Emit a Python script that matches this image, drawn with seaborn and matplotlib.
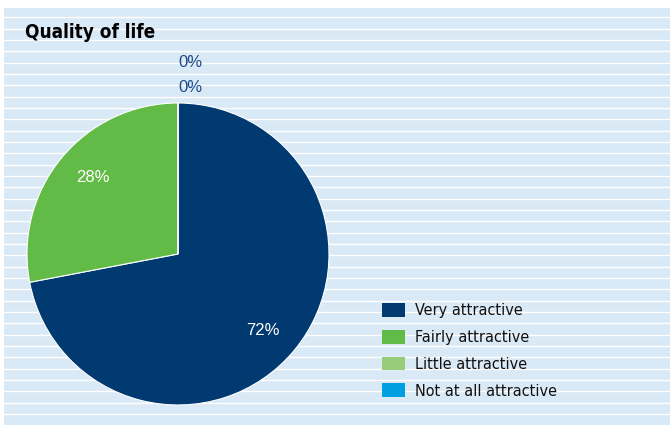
import matplotlib
matplotlib.use("Agg")
import matplotlib.pyplot as plt
import seaborn as sns
import numpy as np
from matplotlib.patches import Rectangle
from matplotlib.lines import Line2D
from matplotlib import font_manager as fm

# Survey answers: how attractive is the quality of life
categories = ["Very attractive", "Fairly attractive", "Little attractive", "Not at all attractive"]
shares = [72, 28, 0, 0]
colors = ["#003A70", "#62BB46", "#97CD79", "#009FDF"]
title = "Quality of life"

sns.set_theme(style="white")
plt.rcParams["font.family"] = ["Liberation Sans", "DejaVu Sans"]

# a condensed face for the title and legend, if one is available
cond = fm.FontProperties(family="DejaVu Sans", stretch="condensed", size=11.6)
cond_bold = fm.FontProperties(family="DejaVu Sans", stretch="condensed",
                              weight="bold", size=13.6)

W, H = 670, 425
fig = plt.figure(figsize=(W / 100, H / 100), dpi=100)
fig.patch.set_facecolor("white")

# striped light-blue panel behind everything
px, py = 4, 8
fig.patches.append(Rectangle((px / W, 0), (W - px) / W, (H - py) / H,
                             transform=fig.transFigure, facecolor="#D9E9F5",
                             edgecolor="none", zorder=-10))
y = 17.2
while y < H:
    fig.lines.append(Line2D([px / W, 1], [1 - y / H, 1 - y / H],
                            transform=fig.transFigure, color="white",
                            lw=1.0, zorder=-9))
    y += 11.34

# pie axes: centre (178, 254) px, radius 151 px
cx, cy, r = 178, 254, 151
ax = fig.add_axes([(cx - r) / W, (H - cy - r) / H, 2 * r / W, 2 * r / H])

wedges, _ = ax.pie(shares, colors=colors, startangle=90, counterclock=False,
                   radius=1, wedgeprops=dict(edgecolor="white", linewidth=0.8))
ax.set_xlim(-1, 1)
ax.set_ylim(-1, 1)
ax.set_aspect("equal")
ax.axis("off")
ax.patch.set_alpha(0)

zero_offsets = [1.265, 1.10]
zi = 0
for w, v in zip(wedges, shares):
    if v > 0:
        ang = np.deg2rad((w.theta1 + w.theta2) / 2 - 2.5)
        ax.text(0.76 * np.cos(ang), 0.76 * np.sin(ang), f"{v}%", color="white",
                ha="center", va="center", fontsize=12)
    else:
        ax.text(0.0, zero_offsets[zi], f"{v}%", color="#1D4B88",
                ha="left", va="center", fontsize=12, clip_on=False)
        zi += 1

fig.text(25 / W, 1 - 32 / H, title, fontproperties=cond_bold,
         color="black", ha="left", va="center")

leg = fig.legend(wedges, categories, loc="upper left",
                 bbox_to_anchor=(382 / W, 1 - 303 / H), frameon=False,
                 prop=cond, handlelength=1.43, handleheight=0.93,
                 handletextpad=0.62, labelspacing=0.71, borderpad=0,
                 borderaxespad=0)
for t in leg.get_texts():
    t.set_color("#111111")
for h in leg.legend_handles:
    h.set_edgecolor("none")

fig.savefig("out.png", dpi=100, facecolor="white")
